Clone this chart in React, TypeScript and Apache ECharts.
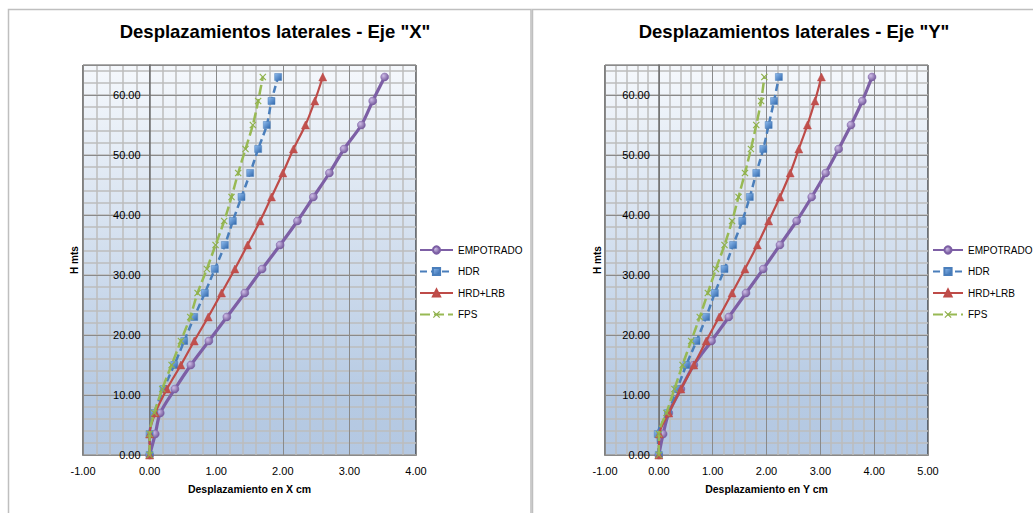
import React, { useEffect, useRef } from "react";
import * as echarts from "echarts";

// ---- data ----
const heights = [0, 3.5, 7, 11, 15, 19, 23, 27, 31, 35, 39, 43, 47, 51, 55, 59, 63];
const seriesNames = ["EMPOTRADO", "HDR", "HRD+LRB", "FPS"];

// Eje X displacements (cm)
const empX = [0, 0.085, 0.16, 0.38, 0.62, 0.89, 1.16, 1.43, 1.69, 1.96, 2.22, 2.46, 2.7, 2.92, 3.18, 3.35, 3.53];
const hdrX = [0, 0, 0.07, 0.21, 0.37, 0.52, 0.67, 0.83, 0.98, 1.13, 1.25, 1.38, 1.51, 1.63, 1.76, 1.83, 1.93];
const lrbX = [0, 0, 0.085, 0.26, 0.47, 0.67, 0.88, 1.08, 1.28, 1.47, 1.66, 1.83, 2.0, 2.16, 2.34, 2.48, 2.6];
const fpsX = [0, 0, 0.07, 0.19, 0.33, 0.47, 0.61, 0.72, 0.86, 0.99, 1.12, 1.23, 1.33, 1.44, 1.55, 1.63, 1.7];

// Eje Y displacements (cm)
const empY = [0, 0.08, 0.185, 0.41, 0.65, 0.98, 1.3, 1.62, 1.94, 2.25, 2.56, 2.84, 3.1, 3.34, 3.57, 3.78, 3.96];
const hdrY = [0, -0.02, 0.17, 0.34, 0.51, 0.7, 0.88, 1.04, 1.22, 1.38, 1.55, 1.69, 1.81, 1.94, 2.04, 2.14, 2.23];
const lrbY = [0, 0.01, 0.185, 0.41, 0.65, 0.88, 1.12, 1.36, 1.6, 1.83, 2.04, 2.25, 2.44, 2.6, 2.76, 2.9, 3.02];
const fpsY = [0, 0, 0.14, 0.29, 0.44, 0.6, 0.76, 0.91, 1.06, 1.22, 1.36, 1.48, 1.6, 1.71, 1.81, 1.9, 1.96];

const titles = ['Desplazamientos laterales - Eje "X"', 'Desplazamientos laterales - Eje "Y"'];
const xAxisNames = ["Desplazamiento en X cm", "Desplazamiento en Y cm"];
const yAxisName = "H mts";
const xRanges = [
  [-1, 4],
  [-1, 5],
];
const yRange = [0, 65];
const yMajorStep = 10;
const yMinorStep = 2;
const xMajorStep = 1;

const FONT = "Liberation Sans";

const X_SYMBOL = "path://M0,1.2L1.2,0L5,3.8L8.8,0L10,1.2L6.2,5L10,8.8L8.8,10L5,6.2L1.2,10L0,8.8L3.8,5Z";

const styles = [
  {
    color: "#7d5fa5",
    width: 3.2,
    type: "solid" as any,
    symbol: "circle",
    size: 8,
    fill: {
      type: "radial",
      x: 0.35,
      y: 0.35,
      r: 0.75,
      colorStops: [
        { offset: 0, color: "#cdbce6" },
        { offset: 1, color: "#6a4e93" },
      ],
    },
  },
  {
    color: "#4a7ebb",
    width: 2.5,
    type: [7, 4] as any,
    symbol: "rect",
    size: 7,
    fill: {
      type: "linear",
      x: 0,
      y: 0,
      x2: 1,
      y2: 1,
      colorStops: [
        { offset: 0, color: "#8fbcef" },
        { offset: 1, color: "#2f66aa" },
      ],
    },
  },
  { color: "#be4b48", width: 2.2, type: "solid" as any, symbol: "triangle", size: 8, fill: "#c0504d" },
  { color: "#98b954", width: 2.5, type: [10, 4] as any, symbol: X_SYMBOL, size: 7, fill: "#8fb04c" },
];

const gridBoxes = [
  { left: 83, top: 65, right: 617, bottom: 58 },
  { left: 605, top: 65, right: 105, bottom: 58 },
];
const CHART_W = 1033;

const App: React.FC = () => {
  const ref = useRef<HTMLDivElement>(null);

  useEffect(() => {
    if (!ref.current) return;
    const chart = echarts.init(ref.current, undefined, { renderer: "svg" });

    const dataSets = [
      [empX, hdrX, lrbX, fpsX],
      [empY, hdrY, lrbY, fpsY],
    ];

    const plotBg = {
      type: "linear",
      x: 0,
      y: 0,
      x2: 0,
      y2: 1,
      colorStops: [
        { offset: 0, color: "#f5f8fc" },
        { offset: 0.85, color: "#b6cae3" },
        { offset: 1, color: "#b4c8e2" },
      ],
    };

    const grids = gridBoxes.map((g) => ({
      ...g,
      show: true,
      backgroundColor: plotBg,
      borderColor: "#000",
      borderWidth: 1,
      containLabel: false,
    }));

    // pixel offset that puts the vertical axis on x = 0
    const zeroOffsets = [0, 1].map((i) => {
      const g = gridBoxes[i];
      const w = CHART_W - g.left - g.right;
      const [mn, mx] = xRanges[i];
      return -((0 - mn) / (mx - mn)) * w;
    });

    const xAxes = [0, 1].map((i) => ({
      type: "value",
      gridIndex: i,
      min: xRanges[i][0],
      max: xRanges[i][1],
      interval: xMajorStep,
      name: xAxisNames[i],
      nameLocation: "middle",
      nameGap: 28,
      nameTextStyle: { fontFamily: FONT, fontSize: 10.5, fontWeight: "bold", color: "#000" },
      axisLine: { show: true, onZero: false, lineStyle: { color: "#000", width: 1 } },
      axisTick: { show: false },
      axisLabel: {
        fontFamily: FONT,
        fontSize: 11,
        color: "#000",
        margin: 10,
        formatter: (v: number) => v.toFixed(2),
      },
      splitLine: { show: true, lineStyle: { color: "#8a8a8a", width: 1 } },
      minorTick: { show: false, splitNumber: 5 },
      minorSplitLine: { show: true, lineStyle: { color: "#bdbdbd", width: 1.5 } },
      z: 1,
    }));

    const yMajor = [0, 1].map((i) => ({
      type: "value",
      gridIndex: i,
      position: "left",
      offset: zeroOffsets[i],
      min: yRange[0],
      max: yRange[1],
      interval: yMajorStep,
      name: yAxisName,
      nameLocation: "middle",
      nameRotate: 90,
      nameGap: i === 0 ? 70 : 56,
      nameTextStyle: { fontFamily: FONT, fontSize: 10, fontWeight: "bold", color: "#000" },
      axisLine: { show: true, onZero: false, lineStyle: { color: "#6e6e6e", width: 1.5 } },
      axisTick: { show: false },
      axisLabel: {
        fontFamily: FONT,
        fontSize: 11,
        color: "#000",
        margin: 9,
        showMaxLabel: false,
        formatter: (v: number) => (v % yMajorStep === 0 ? v.toFixed(2) : ""),
      },
      splitLine: { show: true, lineStyle: { color: "#8a8a8a", width: 1 } },
      z: 2,
    }));

    const yMinor = [0, 1].map((i) => ({
      type: "value",
      gridIndex: i,
      position: "left",
      min: yRange[0],
      max: yRange[1],
      interval: yMinorStep,
      axisLine: { show: false, onZero: false },
      axisTick: { show: false },
      axisLabel: { show: false },
      splitLine: { show: true, lineStyle: { color: "#bdbdbd", width: 1.5 } },
      z: 0,
    }));

    const series: any[] = [];
    [0, 1].forEach((gi) => {
      dataSets[gi].forEach((vals, si) => {
        const st = styles[si];
        series.push({
          type: "line",
          name: seriesNames[si],
          xAxisIndex: gi,
          yAxisIndex: gi,
          data: vals.map((v, k) => [v, heights[k]]),
          smooth: 0.3,
          symbol: st.symbol,
          symbolSize: st.size,
          showAllSymbol: true,
          lineStyle: { color: st.color, width: st.width, type: st.type },
          itemStyle: { color: st.fill, borderColor: st.color, borderWidth: si === 3 ? 0 : 0.5 },
          emphasis: { disabled: true },
          z: 3 + si,
        });
      });
    });

    const legendBase = {
      orient: "vertical",
      itemHeight: 9,
      itemGap: 9.5,
      padding: 0,
      selectedMode: false,
      data: seriesNames,
      textStyle: { fontFamily: FONT, fontSize: 10, lineHeight: 12, color: "#000" },
    };

    chart.setOption({
      animation: false,
      backgroundColor: "#fff",
      title: [
        {
          text: titles[0],
          left: 270,
          top: 17,
          textAlign: "center",
          textStyle: { fontFamily: FONT, fontSize: 18.5, fontWeight: "bold", color: "#000" },
        },
        {
          text: titles[1],
          left: 789,
          top: 17,
          textAlign: "center",
          textStyle: { fontFamily: FONT, fontSize: 18.5, fontWeight: "bold", color: "#000" },
        },
      ],
      legend: [
        { ...legendBase, left: 419, top: 244, itemWidth: 33 },
        { ...legendBase, left: 932, top: 244, itemWidth: 30 },
      ],
      grid: grids,
      xAxis: xAxes,
      yAxis: [...yMajor, ...yMinor],
      series,
      graphic: [
        {
          type: "rect",
          silent: true,
          z: -10,
          shape: { x: 8.5, y: 9.5, width: 522.5, height: 520 },
          style: { fill: "none", stroke: "#bfbfbf", lineWidth: 1.5 },
        },
        {
          type: "rect",
          silent: true,
          z: -10,
          shape: { x: 532.5, y: 9.5, width: 520, height: 520 },
          style: { fill: "none", stroke: "#bfbfbf", lineWidth: 1.5 },
        },
      ],
    });

    return () => chart.dispose();
  }, []);

  return (
    <div
      ref={ref}
      style={{ position: "absolute", left: 0, top: 0, width: 1033, height: 513 }}
    />
  );
};

export default App;
